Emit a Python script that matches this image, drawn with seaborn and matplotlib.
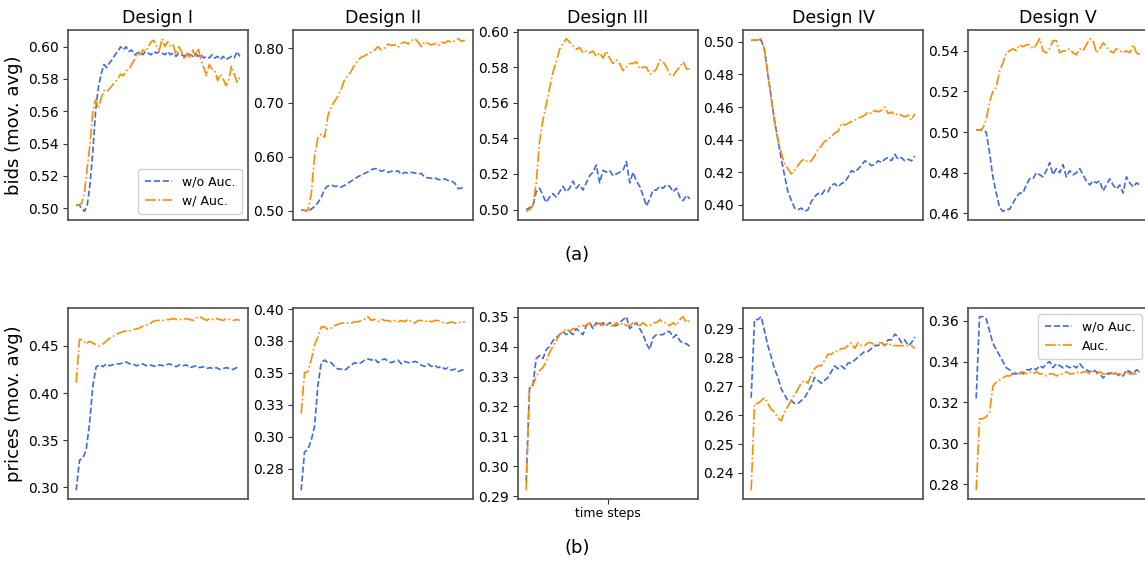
import numpy as np
import pandas as pd
import matplotlib
matplotlib.use("Agg")
import matplotlib.pyplot as plt
from matplotlib.ticker import MultipleLocator, FormatStrFormatter
import seaborn as sns

sns.set_style("white")
plt.rcParams["font.family"] = ["DejaVu Sans"]
plt.rcParams["text.color"] = "black"
plt.rcParams["axes.labelcolor"] = "black"
plt.rcParams["xtick.color"] = "black"
plt.rcParams["ytick.color"] = "black"

designs = ["Design I", "Design II", "Design III", "Design IV", "Design V"]

# ---- bids (moving average) ----
bids_wo = [
    [0.502, 0.502, 0.500, 0.498, 0.502, 0.515, 0.535, 0.560, 0.575, 0.583,
     0.589, 0.587, 0.590, 0.592, 0.595, 0.597, 0.600, 0.598, 0.600, 0.597,
     0.598, 0.595, 0.596, 0.597, 0.595, 0.597, 0.596, 0.595, 0.597, 0.596,
     0.597, 0.596, 0.595, 0.597, 0.595, 0.596, 0.594, 0.596, 0.595, 0.594,
     0.596, 0.595, 0.594, 0.596, 0.594, 0.595, 0.593, 0.594, 0.593, 0.595,
     0.593, 0.594, 0.592, 0.594, 0.592, 0.593, 0.594, 0.593, 0.597, 0.594],
    [0.501, 0.501, 0.499, 0.503, 0.508, 0.515, 0.525, 0.540, 0.546, 0.548,
     0.545, 0.546, 0.544, 0.547, 0.551, 0.555, 0.559, 0.563, 0.566, 0.569,
     0.572, 0.576, 0.578, 0.577, 0.573, 0.575, 0.571, 0.573, 0.572, 0.574,
     0.567, 0.571, 0.570, 0.571, 0.570, 0.568, 0.569, 0.562, 0.561, 0.560,
     0.561, 0.558, 0.557, 0.559, 0.556, 0.555, 0.551, 0.541, 0.542, 0.545],
    [0.500, 0.501, 0.502, 0.510, 0.512, 0.508, 0.504, 0.507, 0.509, 0.507,
     0.510, 0.513, 0.510, 0.512, 0.516, 0.512, 0.514, 0.511, 0.515, 0.519,
     0.521, 0.525, 0.515, 0.522, 0.521, 0.522, 0.519, 0.520, 0.521, 0.522,
     0.527, 0.515, 0.521, 0.516, 0.513, 0.508, 0.502, 0.506, 0.511, 0.511,
     0.513, 0.512, 0.514, 0.513, 0.510, 0.512, 0.507, 0.505, 0.508, 0.506],
    [0.501, 0.501, 0.501, 0.501, 0.495, 0.480, 0.466, 0.452, 0.440, 0.428,
     0.418, 0.408, 0.403, 0.398, 0.397, 0.398, 0.396, 0.397, 0.402, 0.405,
     0.407, 0.406, 0.409, 0.408, 0.412, 0.413, 0.411, 0.413, 0.414, 0.417,
     0.421, 0.420, 0.422, 0.424, 0.427, 0.426, 0.424, 0.425, 0.427, 0.426,
     0.428, 0.429, 0.427, 0.431, 0.428, 0.429, 0.427, 0.428, 0.427, 0.430],
    [0.501, 0.501, 0.501, 0.500, 0.490, 0.478, 0.470, 0.463, 0.461, 0.462,
     0.462, 0.465, 0.468, 0.470, 0.470, 0.474, 0.477, 0.477, 0.480, 0.479,
     0.478, 0.481, 0.485, 0.479, 0.482, 0.480, 0.484, 0.478, 0.481, 0.479,
     0.480, 0.482, 0.479, 0.476, 0.474, 0.476, 0.475, 0.476, 0.471, 0.474,
     0.477, 0.474, 0.472, 0.474, 0.470, 0.478, 0.475, 0.473, 0.475, 0.474],
]
bids_w = [
    [0.502, 0.502, 0.503, 0.510, 0.525, 0.540, 0.560, 0.567, 0.562, 0.568,
     0.573, 0.572, 0.574, 0.576, 0.578, 0.580, 0.583, 0.582, 0.585, 0.586,
     0.589, 0.592, 0.596, 0.595, 0.598, 0.597, 0.600, 0.603, 0.604, 0.600,
     0.598, 0.605, 0.600, 0.603, 0.600, 0.601, 0.595, 0.600, 0.597, 0.592,
     0.596, 0.593, 0.598, 0.594, 0.599, 0.592, 0.587, 0.582, 0.589, 0.586,
     0.585, 0.579, 0.583, 0.580, 0.576, 0.579, 0.588, 0.583, 0.578, 0.581],
    [0.502, 0.501, 0.500, 0.530, 0.600, 0.635, 0.642, 0.636, 0.675, 0.693,
     0.702, 0.712, 0.725, 0.742, 0.750, 0.758, 0.770, 0.778, 0.784, 0.786,
     0.790, 0.793, 0.797, 0.803, 0.797, 0.801, 0.808, 0.805, 0.807, 0.802,
     0.809, 0.812, 0.808, 0.814, 0.818, 0.812, 0.803, 0.812, 0.809, 0.806,
     0.809, 0.805, 0.811, 0.810, 0.814, 0.811, 0.814, 0.818, 0.813, 0.815],
    [0.499, 0.500, 0.502, 0.515, 0.538, 0.550, 0.559, 0.568, 0.577, 0.583,
     0.590, 0.593, 0.596, 0.594, 0.592, 0.590, 0.591, 0.588, 0.589, 0.588,
     0.589, 0.586, 0.588, 0.585, 0.589, 0.585, 0.582, 0.584, 0.582, 0.578,
     0.580, 0.582, 0.582, 0.583, 0.579, 0.580, 0.580, 0.576, 0.577, 0.579,
     0.584, 0.583, 0.580, 0.576, 0.575, 0.578, 0.580, 0.583, 0.579, 0.579],
    [0.501, 0.501, 0.501, 0.502, 0.495, 0.480, 0.465, 0.450, 0.440, 0.432,
     0.425, 0.422, 0.419, 0.421, 0.424, 0.427, 0.428, 0.426, 0.427, 0.430,
     0.434, 0.436, 0.439, 0.440, 0.442, 0.444, 0.445, 0.450, 0.449, 0.450,
     0.451, 0.452, 0.453, 0.454, 0.455, 0.457, 0.456, 0.458, 0.457, 0.458,
     0.460, 0.456, 0.457, 0.455, 0.456, 0.455, 0.454, 0.455, 0.452, 0.456],
    [0.501, 0.501, 0.502, 0.506, 0.515, 0.520, 0.522, 0.530, 0.534, 0.539,
     0.540, 0.541, 0.540, 0.543, 0.542, 0.543, 0.543, 0.541, 0.543, 0.546,
     0.540, 0.539, 0.541, 0.545, 0.545, 0.539, 0.540, 0.540, 0.541, 0.539,
     0.538, 0.541, 0.540, 0.543, 0.546, 0.545, 0.539, 0.541, 0.544, 0.542,
     0.540, 0.539, 0.541, 0.540, 0.539, 0.540, 0.539, 0.543, 0.539, 0.538],
]

# ---- prices (moving average) ----
prices_wo = [
    [0.297, 0.329, 0.331, 0.340, 0.368, 0.408, 0.428, 0.430, 0.428, 0.431,
     0.429, 0.430, 0.431, 0.431, 0.432, 0.433, 0.431, 0.431, 0.429, 0.430,
     0.431, 0.429, 0.430, 0.429, 0.428, 0.430, 0.429, 0.430, 0.431, 0.429,
     0.428, 0.430, 0.429, 0.430, 0.427, 0.428, 0.429, 0.427, 0.428, 0.426,
     0.427, 0.426, 0.427, 0.425, 0.426, 0.427, 0.426, 0.425, 0.427, 0.428],
    [0.258, 0.288, 0.290, 0.297, 0.308, 0.340, 0.358, 0.360, 0.358, 0.358,
     0.355, 0.353, 0.353, 0.352, 0.354, 0.356, 0.358, 0.357, 0.358, 0.360,
     0.361, 0.360, 0.361, 0.358, 0.360, 0.361, 0.359, 0.358, 0.359, 0.360,
     0.357, 0.359, 0.358, 0.358, 0.359, 0.358, 0.356, 0.355, 0.357, 0.355,
     0.356, 0.354, 0.355, 0.353, 0.354, 0.352, 0.353, 0.351, 0.352, 0.353],
    [0.295, 0.326, 0.327, 0.336, 0.337, 0.336, 0.339, 0.340, 0.342, 0.343,
     0.344, 0.345, 0.344, 0.345, 0.344, 0.346, 0.345, 0.344, 0.347, 0.348,
     0.346, 0.348, 0.347, 0.348, 0.347, 0.348, 0.347, 0.347, 0.348, 0.349,
     0.350, 0.346, 0.347, 0.348, 0.346, 0.344, 0.341, 0.339, 0.343, 0.344,
     0.344, 0.344, 0.345, 0.345, 0.343, 0.344, 0.342, 0.341, 0.341, 0.340],
    [0.266, 0.293, 0.293, 0.294, 0.289, 0.284, 0.280, 0.276, 0.273, 0.269,
     0.267, 0.265, 0.265, 0.264, 0.264, 0.265, 0.266, 0.268, 0.270, 0.273,
     0.272, 0.271, 0.272, 0.273, 0.275, 0.277, 0.276, 0.277, 0.276, 0.278,
     0.278, 0.279, 0.280, 0.281, 0.282, 0.282, 0.283, 0.284, 0.284, 0.285,
     0.284, 0.286, 0.286, 0.288, 0.287, 0.285, 0.286, 0.284, 0.285, 0.287],
    [0.322, 0.362, 0.362, 0.361, 0.355, 0.349, 0.346, 0.343, 0.340, 0.337,
     0.336, 0.334, 0.334, 0.335, 0.334, 0.336, 0.336, 0.337, 0.336, 0.338,
     0.337, 0.339, 0.340, 0.337, 0.339, 0.338, 0.337, 0.338, 0.337, 0.338,
     0.337, 0.339, 0.337, 0.336, 0.335, 0.336, 0.335, 0.334, 0.332, 0.334,
     0.334, 0.335, 0.334, 0.333, 0.333, 0.336, 0.335, 0.334, 0.336, 0.335],
]
prices_w = [
    [0.411, 0.457, 0.456, 0.452, 0.455, 0.453, 0.451, 0.450, 0.452, 0.455,
     0.458, 0.460, 0.462, 0.464, 0.465, 0.466, 0.466, 0.467, 0.468, 0.469,
     0.471, 0.472, 0.473, 0.476, 0.477, 0.477, 0.477, 0.478, 0.478, 0.479,
     0.478, 0.478, 0.478, 0.479, 0.478, 0.477, 0.480, 0.481, 0.479, 0.477,
     0.479, 0.478, 0.479, 0.478, 0.477, 0.479, 0.478, 0.477, 0.478, 0.477],
    [0.318, 0.350, 0.351, 0.360, 0.372, 0.378, 0.386, 0.386, 0.384, 0.385,
     0.387, 0.388, 0.389, 0.389, 0.389, 0.389, 0.390, 0.390, 0.391, 0.392,
     0.394, 0.391, 0.392, 0.390, 0.392, 0.391, 0.391, 0.390, 0.391, 0.390,
     0.391, 0.390, 0.392, 0.390, 0.389, 0.391, 0.391, 0.390, 0.391, 0.390,
     0.391, 0.391, 0.390, 0.389, 0.389, 0.390, 0.389, 0.389, 0.390, 0.390],
    [0.292, 0.327, 0.327, 0.330, 0.332, 0.333, 0.335, 0.338, 0.340, 0.342,
     0.344, 0.345, 0.346, 0.345, 0.346, 0.346, 0.347, 0.347, 0.347, 0.348,
     0.347, 0.347, 0.348, 0.347, 0.348, 0.347, 0.347, 0.348, 0.347, 0.348,
     0.347, 0.347, 0.348, 0.348, 0.347, 0.348, 0.347, 0.347, 0.348, 0.348,
     0.349, 0.348, 0.348, 0.347, 0.348, 0.347, 0.349, 0.350, 0.348, 0.349],
    [0.234, 0.264, 0.264, 0.265, 0.266, 0.264, 0.262, 0.261, 0.259, 0.258,
     0.261, 0.263, 0.265, 0.267, 0.269, 0.271, 0.272, 0.271, 0.274, 0.276,
     0.277, 0.277, 0.279, 0.281, 0.281, 0.282, 0.282, 0.283, 0.283, 0.284,
     0.285, 0.283, 0.285, 0.284, 0.284, 0.285, 0.285, 0.284, 0.285, 0.285,
     0.284, 0.285, 0.284, 0.284, 0.284, 0.284, 0.284, 0.284, 0.284, 0.283],
    [0.277, 0.312, 0.312, 0.313, 0.315, 0.328, 0.330, 0.331, 0.332, 0.333,
     0.333, 0.334, 0.335, 0.334, 0.335, 0.334, 0.335, 0.334, 0.335, 0.334,
     0.334, 0.333, 0.334, 0.334, 0.333, 0.334, 0.334, 0.335, 0.334, 0.334,
     0.335, 0.334, 0.335, 0.335, 0.334, 0.335, 0.334, 0.335, 0.334, 0.334,
     0.335, 0.334, 0.334, 0.334, 0.333, 0.335, 0.334, 0.334, 0.334, 0.335],
]

bid_tick_steps = [0.02, 0.10, 0.02, 0.02, 0.02]
price_tick_steps = [0.05, 0.025, 0.01, 0.01, 0.02]

blue = "#4169E1"
orange = "#FF8C00"

fig = plt.figure(figsize=(11.45, 5.61), dpi=100)
W, H = 1145.0, 561.0
lefts = [68, 293, 518, 743, 968]
pw = 180


def style_axes(ax, step):
    ax.yaxis.set_major_locator(MultipleLocator(step))
    ax.yaxis.set_major_formatter(FormatStrFormatter("%.2f"))
    ax.tick_params(axis="y", left=True, length=3.5, width=0.8,
                   labelsize=10, color="0.2", pad=3)
    ax.tick_params(axis="x", bottom=False, labelbottom=False)
    for s in ax.spines.values():
        s.set_color("0.3")
        s.set_linewidth(1.2)
    ax.set_xlabel("")
    ax.set_ylabel("")


def draw(ax, wo, w, lab_wo, lab_w):
    t_wo = np.arange(len(wo))
    t_w = np.arange(len(w))
    sns.lineplot(x=t_wo, y=wo, ax=ax, color=blue, linestyle="--",
                 linewidth=1.2, label=lab_wo)
    sns.lineplot(x=t_w, y=w, ax=ax, color=orange, linestyle="-.",
                 linewidth=1.2, label=lab_w)


top_axes, bot_axes = [], []
for i in range(5):
    ax = fig.add_axes([lefts[i] / W, 1 - 220 / H, pw / W, 190 / H])
    draw(ax, bids_wo[i], bids_w[i], "w/o Auc.", "w/ Auc.")
    style_axes(ax, bid_tick_steps[i])
    ax.set_title(designs[i], fontsize=12.5, pad=5)
    top_axes.append(ax)

    bx = fig.add_axes([lefts[i] / W, 1 - 499 / H, pw / W, 191 / H])
    draw(bx, prices_wo[i], prices_w[i], "w/o Auc.", "Auc.")
    style_axes(bx, price_tick_steps[i])
    bot_axes.append(bx)

for i in range(5):
    if i != 0:
        top_axes[i].get_legend().remove()
    if i != 4:
        bot_axes[i].get_legend().remove()

leg_kw = dict(fontsize=9, frameon=True, fancybox=True, edgecolor="0.8",
              framealpha=0.9, borderpad=0.5, handlelength=2.2)
top_axes[0].legend(loc="lower right", **leg_kw)
bot_axes[4].legend(loc="upper right", **leg_kw)

top_axes[0].set_ylabel("bids (mov. avg)", fontsize=13)
bot_axes[0].set_ylabel("prices (mov. avg)", fontsize=13)

mid = bot_axes[2]
n_mid = len(prices_wo[2])
mid.set_xticks([(n_mid - 1) / 2])
mid.set_xticklabels([""])
mid.tick_params(axis="x", bottom=True, length=3.5, width=0.8, color="0.2")
mid.set_xlabel("time steps", fontsize=9, labelpad=2)

fig.text(577 / W, 1 - 255 / H, "(a)", ha="center", va="center", fontsize=13)
fig.text(577 / W, 1 - 548 / H, "(b)", ha="center", va="center", fontsize=13)

fig.savefig("out.png", dpi=100)
